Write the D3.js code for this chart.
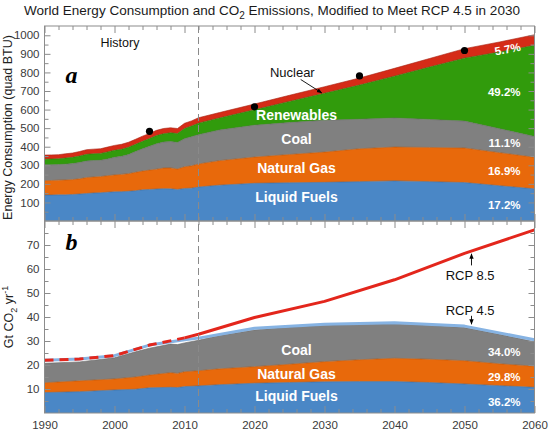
<!DOCTYPE html>
<html><head><meta charset="utf-8">
<script src="https://cdn.jsdelivr.net/npm/d3@7"></script>
<style>
html,body{margin:0;padding:0;background:#fff;}
svg{display:block;font-family:"Liberation Sans",Arial,Helvetica,sans-serif;}
</style></head>
<body><svg id="c" width="553" height="435"></svg>
<script>
// ---------- DATA ----------
const yearsA = [1990,1991,1992,1993,1994,1995,1996,1997,1998,1999,2000,2001,2002,2003,2004,2005,2006,2007,2008,2009,2010,2011,2012,
                2015,2020,2025,2030,2035,2040,2045,2050,2055,2060];
const liquidA = [140,140,141,141,143,145,148,151,152,155,157,158,160,163,168,170,172,174,173,170,175,177,183,
                 193,203,206,208,212,216,212,207,190,173];
const gasA    = [77,78,79,80,80,82,86,86,87,89,91,93,95,99,101,104,107,111,113,110,117,120,124,
                 132,141,152,163,177,182,184,186,178,170];
const coalA   = [86,85,84,85,86,88,89,89,88,90,95,97,103,112,120,128,137,140,142,143,151,157,158,
                 165,172,172,172,159,157,151,145,129,112];
const renewA  = [30,31,31,33,34,35,36,36,37,38,38,38,39,39,40,42,44,45,47,48,55,57,62,
                 65,83,114,145,184,225,282,339,413,491];
const nuclearA= [22,22,22,23,23,24,25,25,25,26,26,27,27,27,28,27,28,28,27,27,28,28,29,
                 29,31,33,35,38,42,46,51,54,57];
const dotYears  = [2005,2020,2035,2050];
const dotValues = [483,615,781,918];

const yearsB  = [1990,1995,2000,2003,2005,2008,2009,2010,2012,2015,2020,2025,2030,2035,2040,2045,2050,2055,2060];
const liquidB = [8.5,8.9,9.6,9.9,10.5,10.7,10.6,11.0,11.3,11.8,12.4,12.7,13.0,13.1,13.1,12.7,12.1,11.4,10.7];
const gasB    = [4.1,4.5,4.6,5.1,5.3,6.1,5.9,6.2,6.3,6.6,6.9,7.6,8.4,9.1,9.7,9.7,9.7,9.1,8.8];
const coalB   = [8.1,7.9,8.8,10.5,11.2,11.9,12.0,12.0,12.7,13.9,15.3,15.5,15.2,14.8,14.3,14.2,13.8,12.3,10.2];

const rcp45Years = [1990,1995,2000,2005,2010,2012,2020,2030,2040,2050,2060];
const rcp45      = [22.0,22.5,23.9,28.3,30.5,31.2,35.3,37.0,37.6,36.2,30.5];
const rcp85Years = [1990,1995,2000,2005,2010,2012,2020,2030,2040,2050,2060];
const rcp85      = [22.0,22.5,23.9,28.3,31.3,32.8,39.8,46.5,55.5,66.5,76.3];
const rcp85DashEnd = 2010;

const xTicks  = [1990,2000,2010,2020,2030,2040,2050,2060];
const yTicksA = [100,200,300,400,500,600,700,800,900,1000];
const yTicksB = [10,20,30,40,50,60,70];
const historyYear = 2012;

const namesA = ["Liquid Fuels","Natural Gas","Coal","Renewables","Nuclear"];
const pctA   = ["17.2%","16.9%","11.1%","49.2%","5.7%"];
const namesB = ["Liquid Fuels","Natural Gas","Coal"];
const pctB   = ["36.2%","29.8%","34.0%"];

// ---------- SETUP ----------
const svg = d3.select("#c");
const colors = {liquid:"#4a87c6", gas:"#e8690b", coal:"#808080", renew:"#319b0c", nuclear:"#d52b17"};
const frameColor = "#8c8c8c";
const x  = d3.scaleLinear().domain([1990,2060]).range([44.5,534.5]);
const yA = d3.scaleLinear().domain([0,1050]).range([221,26]);
const yB = d3.scaleLinear().domain([0,80]).range([413,221]);

function stackRows(years, cols, keys){
  return years.map((yr,i)=>{const o={year:yr}; keys.forEach((k,j)=>o[k]=cols[j][i]); return o;});
}

// ---------- PANEL A ----------
const keysA = ["liquid","gas","coal","renew","nuclear"];
const rowsA = stackRows(yearsA,[liquidA,gasA,coalA,renewA,nuclearA],keysA);
const serA = d3.stack().keys(keysA)(rowsA);
const areaA = d3.area().x(d=>x(d.data.year)).y0(d=>yA(d[0])).y1(d=>yA(d[1]));
const lineTopA = d3.line().x(d=>x(d.data.year)).y(d=>yA(d[1]));
svg.append("g").selectAll("path").data(serA).join("path")
  .attr("d",areaA).attr("fill",d=>colors[d.key]);
svg.append("g").selectAll("path").data(serA).join("path")
  .attr("d",lineTopA).attr("fill","none")
  .attr("stroke",d=>d3.color(colors[d.key]).darker(0.7)).attr("stroke-width",0.6);

// dots
svg.append("g").selectAll("circle").data(dotYears).join("circle")
  .attr("cx",d=>x(d)).attr("cy",(d,i)=>yA(dotValues[i])).attr("r",3.6).attr("fill","#000");

// ---------- PANEL B ----------
const keysB = ["liquid","gas","coal"];
const rowsB = stackRows(yearsB,[liquidB,gasB,coalB],keysB);
const serB = d3.stack().keys(keysB)(rowsB);
const areaB = d3.area().x(d=>x(d.data.year)).y0(d=>yB(d[0])).y1(d=>yB(d[1]));
const lineTopB = d3.line().x(d=>x(d.data.year)).y(d=>yB(d[1]));
svg.append("g").selectAll("path").data(serB).join("path")
  .attr("d",areaB).attr("fill",d=>colors[d.key]);
svg.append("g").selectAll("path").data(serB).join("path")
  .attr("d",lineTopB).attr("fill","none")
  .attr("stroke",d=>d3.color(colors[d.key]).darker(0.7)).attr("stroke-width",0.6);

const lineB = d3.line().x(d=>x(d[0])).y(d=>yB(d[1]));
const p45 = rcp45Years.map((yr,i)=>[yr,rcp45[i]]);
const p85 = rcp85Years.map((yr,i)=>[yr,rcp85[i]]);
svg.append("path").attr("d",lineB(p45)).attr("fill","none")
  .attr("stroke","#86b3e3").attr("stroke-width",3).attr("stroke-linejoin","round");
svg.append("path").attr("d",lineB(p85.filter(p=>p[0]<=rcp85DashEnd))).attr("fill","none")
  .attr("stroke","#e3261c").attr("stroke-width",3).attr("stroke-dasharray","9,6");
svg.append("path").attr("d",lineB(p85.filter(p=>p[0]>=rcp85DashEnd))).attr("fill","none")
  .attr("stroke","#e3261c").attr("stroke-width",3).attr("stroke-linejoin","round");

// ---------- HISTORY LINE ----------
svg.append("line").attr("x1",x(historyYear)).attr("x2",x(historyYear))
  .attr("y1",yA.range()[1]).attr("y2",yB.range()[0])
  .attr("stroke","#8a8a8a").attr("stroke-width",1).attr("stroke-dasharray","7,4");

// ---------- AXES ----------
function styleAxis(g, labels){
  g.select(".domain").remove();
  g.selectAll(".tick line").attr("stroke",frameColor).attr("stroke-width",1);
  g.selectAll(".tick text").attr("fill","#3a3a3a").style("font-size","11.5px")
    .style("font-family","'Liberation Sans',Arial,Helvetica,sans-serif");
  if(!labels) g.selectAll(".tick text").remove();
}
const minorX = d3.range(1990,2061,2).filter(v=>v%10!==0);
function xAxes(yPos, dirDown, labels){
  const major = (dirDown?d3.axisTop(x):d3.axisBottom(x)).tickValues(xTicks).tickSize(-7).tickPadding(8).tickFormat(d3.format("d"));
  const minor = (dirDown?d3.axisTop(x):d3.axisBottom(x)).tickValues(minorX).tickSize(-4).tickFormat("");
  svg.append("g").attr("transform",`translate(0,${yPos})`).call(major).call(g=>styleAxis(g,labels));
  svg.append("g").attr("transform",`translate(0,${yPos})`).call(minor).call(g=>styleAxis(g,false));
}
xAxes(yA.range()[1], true, false);
xAxes(yA.range()[0], false, false);
xAxes(yB.range()[1], true, false);
xAxes(yB.range()[0], false, true);

function yAxes(scale, major, minorVals){
  const l = d3.axisLeft(scale).tickValues(major).tickSize(-6).tickPadding(5).tickFormat(d3.format("d"));
  const lm = d3.axisLeft(scale).tickValues(minorVals).tickSize(-4).tickFormat("");
  const r = d3.axisRight(scale).tickValues(major).tickSize(-6).tickFormat("");
  const rm = d3.axisRight(scale).tickValues(minorVals).tickSize(-4).tickFormat("");
  svg.append("g").attr("transform",`translate(${x.range()[0]},0)`).call(l).call(g=>styleAxis(g,true));
  svg.append("g").attr("transform",`translate(${x.range()[0]},0)`).call(lm).call(g=>styleAxis(g,false));
  svg.append("g").attr("transform",`translate(${x.range()[1]},0)`).call(r).call(g=>styleAxis(g,false));
  svg.append("g").attr("transform",`translate(${x.range()[1]},0)`).call(rm).call(g=>styleAxis(g,false));
}
yAxes(yA, yTicksA, d3.range(50,1050,100));
yAxes(yB, yTicksB, d3.range(5,80,10));

// frames
[[yA],[yB]].forEach(([s])=>{
  svg.append("rect").attr("x",x.range()[0]).attr("y",s.range()[1])
    .attr("width",x.range()[1]-x.range()[0]).attr("height",s.range()[0]-s.range()[1])
    .attr("fill","none").attr("stroke",frameColor).attr("stroke-width",1);
});

// ---------- TEXT ----------
const title = svg.append("text").attr("x",272).attr("y",15).attr("text-anchor","middle")
  .style("font-size","13.5px").attr("fill","#1a1a1a");
title.append("tspan").text("World Energy Consumption and CO");
title.append("tspan").text("2").attr("dy",4).style("font-size","10px");
title.append("tspan").text(" Emissions, Modified to Meet RCP 4.5 in 2030").attr("dy",-4);

svg.append("text").attr("transform",`translate(12,${(yA(0)+yA(1050))/2+4}) rotate(-90)`)
  .attr("text-anchor","middle").style("font-size","12.5px").attr("fill","#222")
  .text("Energy Consumption (quad BTU)");
const tb = svg.append("text").attr("transform",`translate(13,${yB(40)}) rotate(-90)`)
  .attr("text-anchor","middle").style("font-size","12.5px").attr("fill","#222");
tb.append("tspan").text("Gt CO");
tb.append("tspan").text("2").attr("dy",4).style("font-size","9px");
tb.append("tspan").text(" yr").attr("dy",-4);
tb.append("tspan").text("-1").attr("dy",-5).style("font-size","9px");

// panel letters
svg.append("text").attr("x",x(1993)).attr("y",yA(745)).text("a")
  .style("font-family","'Liberation Serif','DejaVu Serif',serif").style("font-size","24px")
  .style("font-style","italic").style("font-weight","bold");
svg.append("text").attr("x",x(1993)).attr("y",yB(68)).text("b")
  .style("font-family","'Liberation Serif','DejaVu Serif',serif").style("font-size","24px")
  .style("font-style","italic").style("font-weight","bold");

svg.append("text").attr("x",x(1998)).attr("y",yA(960)).attr("dominant-baseline","central")
  .style("font-size","12.5px").attr("fill","#111").text("History");

// category labels panel A
const labelYA = [131,284,440,571];
svg.append("g").selectAll("text").data(labelYA).join("text")
  .attr("x",x(2026)).attr("y",d=>yA(d)).attr("text-anchor","middle").attr("dominant-baseline","central")
  .style("font-size","14px").style("font-weight","bold").attr("fill","#fff")
  .text((d,i)=>namesA[i]);
const pctYA = [86,269,418,696];
svg.append("g").selectAll("text").data(pctYA).join("text")
  .attr("x",x(2058)).attr("y",d=>yA(d)).attr("text-anchor","end").attr("dominant-baseline","central")
  .style("font-size","11.5px").style("font-weight","bold").attr("fill","#fff")
  .text((d,i)=>pctA[i]);
svg.append("text").attr("transform",`translate(${x(2058)},${yA(939)}) rotate(-11)`)
  .attr("text-anchor","end").attr("dominant-baseline","central")
  .style("font-size","11.5px").style("font-weight","bold").attr("fill","#fff").text(pctA[4]);

// Nuclear label & arrow
svg.append("defs").append("marker").attr("id","ah").attr("viewBox","0 0 10 10")
  .attr("refX",9).attr("refY",5).attr("markerWidth",6).attr("markerHeight",6).attr("orient","auto")
  .append("path").attr("d","M0,1 L10,5 L0,9 z").attr("fill","#000");
svg.append("text").attr("x",x(2025.4)).attr("y",yA(797)).attr("text-anchor","middle")
  .attr("dominant-baseline","central").style("font-size","13px").attr("fill","#111").text("Nuclear");
svg.append("line").attr("x1",x(2026.6)).attr("y1",yA(762)).attr("x2",x(2029.6)).attr("y2",yA(690))
  .attr("stroke","#000").attr("stroke-width",0.9).attr("marker-end","url(#ah)");

// category labels panel B
const labelYB = [7.2,16.1,26.25];
svg.append("g").selectAll("text").data(labelYB).join("text")
  .attr("x",x(2026)).attr("y",d=>yB(d)).attr("text-anchor","middle").attr("dominant-baseline","central")
  .style("font-size","14px").style("font-weight","bold").attr("fill","#fff")
  .text((d,i)=>namesB[i]);
const pctYB = [4.5,15.1,25.3];
svg.append("g").selectAll("text").data(pctYB).join("text")
  .attr("x",x(2058)).attr("y",d=>yB(d)).attr("text-anchor","end").attr("dominant-baseline","central")
  .style("font-size","11.5px").style("font-weight","bold").attr("fill","#fff")
  .text((d,i)=>pctB[i]);

// RCP labels
svg.append("text").attr("x",x(2050.8)).attr("y",yB(57.5)).attr("text-anchor","middle")
  .attr("dominant-baseline","central").style("font-size","13px").attr("fill","#111").text("RCP 8.5");
svg.append("line").attr("x1",x(2051)).attr("y1",yB(61.5)).attr("x2",x(2051)).attr("y2",yB(66.3))
  .attr("stroke","#000").attr("stroke-width",0.9).attr("marker-end","url(#ah)");
svg.append("text").attr("x",x(2050.8)).attr("y",yB(42.9)).attr("text-anchor","middle")
  .attr("dominant-baseline","central").style("font-size","13px").attr("fill","#111").text("RCP 4.5");
svg.append("line").attr("x1",x(2051)).attr("y1",yB(40.5)).attr("x2",x(2051)).attr("y2",yB(37))
  .attr("stroke","#000").attr("stroke-width",0.9).attr("marker-end","url(#ah)");
</script></body></html>
